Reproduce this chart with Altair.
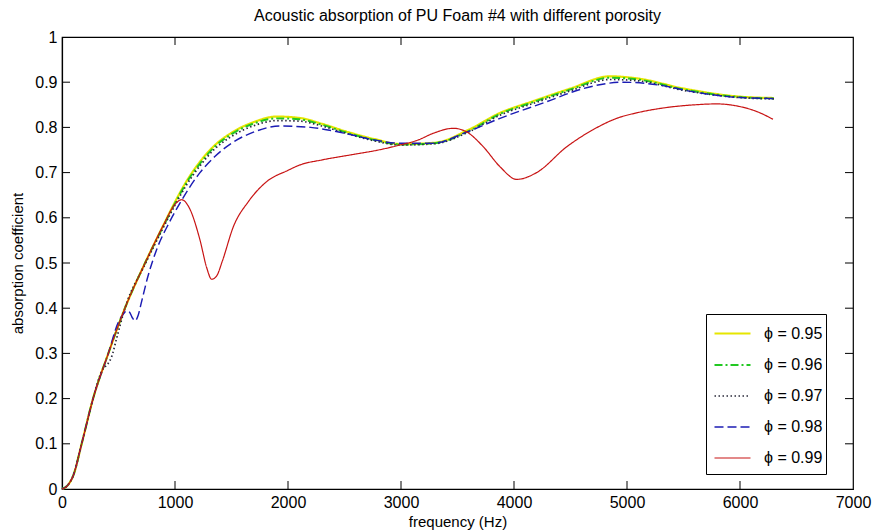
import altair as alt
import pandas as pd

# ---- data ----
f95 = [0, 50, 100, 174, 275, 410, 557, 735, 900, 1000, 1100, 1221, 1350, 1500, 1700, 1900, 2100, 2300, 2500, 2750, 3000, 3300, 3600, 3876, 4170, 4500, 4850, 5100, 5500, 6000, 6300]
a95 = [0, 0.008, 0.03, 0.1, 0.2, 0.3, 0.4, 0.5, 0.585, 0.635, 0.68, 0.724, 0.76, 0.788, 0.812, 0.824, 0.821, 0.808, 0.792, 0.775, 0.763, 0.766, 0.795, 0.832, 0.858, 0.886, 0.913, 0.908, 0.886, 0.868, 0.865]

f96 = [0, 50, 100, 174, 275, 410, 557, 735, 900, 1000, 1100, 1221, 1350, 1500, 1700, 1900, 2100, 2300, 2500, 2750, 3000, 3300, 3600, 3876, 4170, 4500, 4850, 5100, 5500, 6000, 6300]
a96 = [0, 0.008, 0.03, 0.1, 0.2, 0.3, 0.4, 0.5, 0.583, 0.632, 0.677, 0.72, 0.757, 0.785, 0.809, 0.82, 0.818, 0.806, 0.79, 0.773, 0.762, 0.765, 0.792, 0.83, 0.856, 0.884, 0.91, 0.906, 0.884, 0.867, 0.864]

f97 = [0, 50, 100, 174, 275, 360, 400, 440, 480, 557, 735, 900, 1000, 1100, 1221, 1350, 1500, 1700, 1900, 2100, 2300, 2500, 2750, 3000, 3300, 3600, 3876, 4170, 4500, 4850, 5100, 5500, 6000, 6300]
a97 = [0, 0.008, 0.03, 0.1, 0.2, 0.265, 0.275, 0.293, 0.33, 0.4, 0.497, 0.58, 0.628, 0.672, 0.715, 0.752, 0.78, 0.804, 0.815, 0.814, 0.803, 0.788, 0.771, 0.761, 0.764, 0.79, 0.827, 0.853, 0.881, 0.906, 0.903, 0.882, 0.866, 0.863]

f98 = [0, 50, 100, 174, 275, 410, 500, 540, 570, 595, 620, 646, 675, 700, 760, 838, 950, 1050, 1221, 1350, 1500, 1700, 1929, 2200, 2500, 2750, 2991, 3283, 3584, 3876, 4292, 4600, 4965, 5300, 5600, 6000, 6300]
a98 = [0, 0.008, 0.03, 0.1, 0.2, 0.3, 0.37, 0.386, 0.394, 0.392, 0.38, 0.372, 0.385, 0.41, 0.47, 0.53, 0.59, 0.635, 0.70, 0.735, 0.765, 0.79, 0.803, 0.80, 0.787, 0.773, 0.765, 0.765, 0.79, 0.82, 0.857, 0.885, 0.9, 0.893, 0.878, 0.866, 0.864]

f99 = [0, 50, 100, 174, 275, 410, 557, 735, 900, 1000, 1060, 1120, 1221, 1280, 1325, 1370, 1420, 1516, 1650, 1811, 2000, 2106, 2300, 2549, 2800, 2991, 3150, 3286, 3463, 3581, 3729, 3876, 4024, 4200, 4466, 4700, 4909, 5100, 5351, 5600, 5794, 6000, 6150, 6292]
a99 = [0, 0.008, 0.03, 0.1, 0.2, 0.3, 0.4, 0.5, 0.585, 0.63, 0.64, 0.625, 0.551, 0.49, 0.464, 0.472, 0.505, 0.58, 0.636, 0.68, 0.705, 0.717, 0.728, 0.739, 0.75, 0.761, 0.772, 0.787, 0.798, 0.79, 0.757, 0.713, 0.685, 0.70, 0.757, 0.795, 0.82, 0.833, 0.844, 0.85, 0.852, 0.846, 0.835, 0.818]

series = ["0.95", "0.96", "0.97", "0.98", "0.99"]
colors = ["#e6e600", "#22c822", "#2a2a3a", "#1c1cb4", "#c81414"]
dashes = [[1, 0], [8, 3, 2, 3], [1.5, 2.5], [9, 4], [1, 0]]
widths = [2.2, 1.2, 1.3, 2.0, 1.8]

x_ticks = [0, 1000, 2000, 3000, 4000, 5000, 6000, 7000]
y_ticks = [0, 0.1, 0.2, 0.3, 0.4, 0.5, 0.6, 0.7, 0.8, 0.9, 1.0]

rows = []
for name, fs, vs in zip(series, [f95, f96, f97, f98, f99], [a95, a96, a97, a98, a99]):
    for i, (f, v) in enumerate(zip(fs, vs)):
        rows.append({"phi": name, "freq": f, "absorb": v, "i": i})
df = pd.DataFrame(rows)

W, H = 791, 452
FONT = "Liberation Sans"

xs = alt.Scale(domain=[0, 7000], nice=False)
ys = alt.Scale(domain=[0, 1], nice=False)

spacer = ["\u00a0\u00a0\u00a0"] * 9
leg = dict(orient="none", legendX=644, legendY=277, title=spacer,
           titleOrient="right")

lines = alt.Chart(df).mark_line(interpolate="monotone").encode(
    x=alt.X("freq:Q", scale=xs, title="frequency (Hz)",
            axis=alt.Axis(values=x_ticks, format="d", ticks=False, grid=False,
                          labelFlush=False, labelPadding=5, titlePadding=4)),
    y=alt.Y("absorb:Q", scale=ys, title="absorption coefficient",
            axis=alt.Axis(values=y_ticks, format=".1~f", ticks=False, grid=False,
                          labelFlush=False, labelPadding=5, titlePadding=9)),
    color=alt.Color("phi:N", scale=alt.Scale(domain=series, range=colors),
                    legend=alt.Legend(symbolType="stroke",
                                      symbolSize=1296, symbolStrokeWidth=2,
                                      symbolOffset=7,
                                      labelExpr="'ϕ = ' + datum.label",
                                      labelFontSize=16, labelFont=FONT,
                                      labelColor="black", labelOffset=12,
                                      rowPadding=4, padding=0,
                                      titleFontSize=16, titleLineHeight=19,
                                      titlePadding=4,
                                      strokeColor="black", fillColor="white",
                                      cornerRadius=0, **leg)),
    strokeDash=alt.StrokeDash("phi:N", scale=alt.Scale(domain=series, range=dashes),
                              legend=alt.Legend(**leg)),
    strokeWidth=alt.StrokeWidth("phi:N", scale=alt.Scale(domain=series, range=widths), legend=None),
    order="i:Q",
)

xt = pd.DataFrame({"t": x_ticks[1:-1]})
yt = pd.DataFrame({"t": y_ticks[1:-1]})
TL = 8
tick_top = alt.Chart(xt).mark_rule(color="black", strokeWidth=1).encode(
    x=alt.X("t:Q", scale=xs), y=alt.value(0), y2=alt.value(TL))
tick_bot = alt.Chart(xt).mark_rule(color="black", strokeWidth=1).encode(
    x=alt.X("t:Q", scale=xs), y=alt.value(H - TL), y2=alt.value(H))
tick_left = alt.Chart(yt).mark_rule(color="black", strokeWidth=1).encode(
    y=alt.Y("t:Q", scale=ys), x=alt.value(0), x2=alt.value(TL))
tick_right = alt.Chart(yt).mark_rule(color="black", strokeWidth=1).encode(
    y=alt.Y("t:Q", scale=ys), x=alt.value(W - TL), x2=alt.value(W))

chart = alt.layer(lines, tick_top, tick_bot, tick_left, tick_right).properties(
    width=W, height=H,
    title=alt.TitleParams("Acoustic absorption of PU Foam #4 with different porosity",
                          font=FONT, fontSize=16, fontWeight="normal", color="black",
                          anchor="middle", offset=5),
    autosize=alt.AutoSizeParams(type="none"),
    padding={"left": 62, "top": 37, "right": 20, "bottom": 42},
).configure(background="white").configure_view(
    stroke="black", strokeWidth=1.2
).configure_axis(
    domainColor="black", domainWidth=1.2, labelColor="black", titleColor="black",
    labelFont=FONT, titleFont=FONT, labelFontSize=16, titleFontSize=15,
    titleFontWeight="normal",
)

chart.save("out.html", embed_options={"renderer": "svg", "actions": False})
